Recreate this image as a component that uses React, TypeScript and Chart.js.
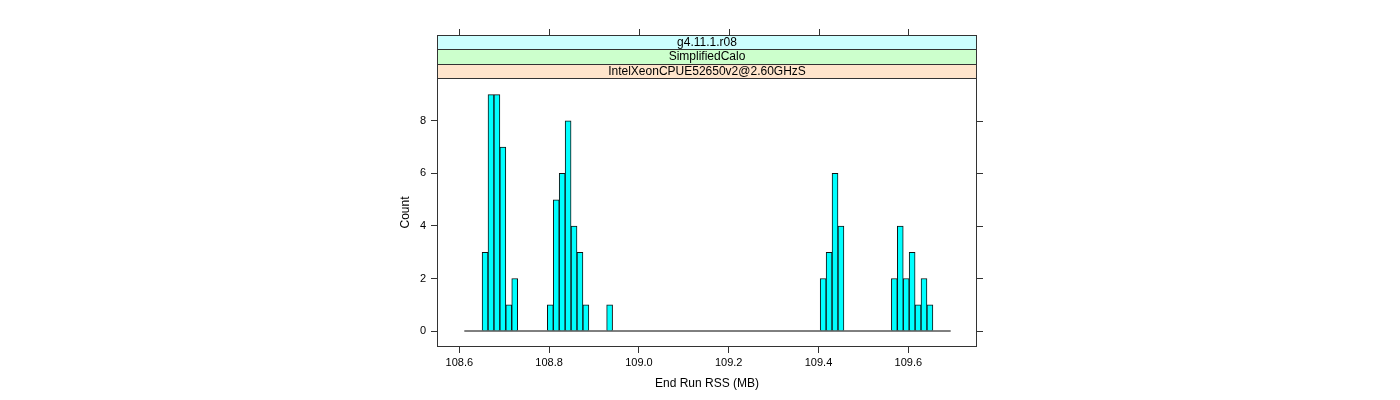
import React, { useEffect, useRef } from "react";
import { Chart, registerables } from "chart.js";

Chart.register(...registerables);

// Histogram bins (End Run RSS, MB)
const binStart = 108.6111;
const binWidth = 0.013211;
const counts = [
  0, 0, 0, 3, 9, 9, 7, 1, 2, 0,
  0, 0, 0, 0, 1, 5, 6, 8, 4, 3,
  1, 0, 0, 0, 1, 0, 0, 0, 0, 0,
  0, 0, 0, 0, 0, 0, 0, 0, 0, 0,
  0, 0, 0, 0, 0, 0, 0, 0, 0, 0,
  0, 0, 0, 0, 0, 0, 0, 0, 0, 0,
  2, 3, 6, 4, 0, 0, 0, 0, 0, 0,
  0, 0, 2, 4, 2, 3, 1, 2, 1, 0,
  0, 0,
];
const stripLabels = ["g4.11.1.r08", "SimplifiedCalo", "IntelXeonCPUE52650v2@2.60GHzS"];
const stripColors = ["#ccffff", "#ccffcc", "#ffe5cc"];
const xTicks = [108.6, 108.8, 109.0, 109.2, 109.4, 109.6];
const yTicks = [0, 2, 4, 6, 8];
const xTitle = "End Run RSS (MB)";
const yTitle = "Count";

const FONT = "'Liberation Sans', Arial, Helvetica, sans-serif";

export default function App() {
  const ref = useRef<HTMLCanvasElement | null>(null);

  useEffect(() => {
    document.body.style.margin = "0";
    const canvas = ref.current!;
    const binCenters = counts.map((_, i) => binStart + (i + 0.5) * binWidth);
    const binEnd = binStart + counts.length * binWidth;

    const framePlugin = {
      id: "latticeFrame",
      afterDraw(chart: any) {
        const { ctx, chartArea } = chart;
        const { left, right, top, bottom } = chartArea;
        const xs = chart.scales.x;
        const ys = chart.scales.y;
        ctx.save();
        // panel border
        ctx.strokeStyle = "#333";
        ctx.lineWidth = 1;
        ctx.strokeRect(left + 0.5, top + 0.5, right - left - 1, bottom - top - 1);
        // strips
        const sh = 14.4;
        const n = stripLabels.length;
        const edges = Array.from({ length: n + 1 }, (_, k) => Math.round(top - sh * (n - k)));
        const stripTop = edges[0];
        ctx.font = `12px ${FONT}`;
        ctx.textAlign = "center";
        ctx.textBaseline = "middle";
        stripLabels.forEach((lab, i) => {
          const y0 = edges[i];
          const y1 = edges[i + 1];
          ctx.fillStyle = stripColors[i];
          ctx.fillRect(left, y0, right - left, y1 - y0);
          ctx.strokeStyle = "#333";
          ctx.strokeRect(left + 0.5, y0 + 0.5, right - left - 1, y1 - y0);
          ctx.fillStyle = "#000";
          ctx.fillText(lab, (left + right) / 2, (y0 + y1) / 2 + 0.5);
        });
        // top ticks above strips
        ctx.strokeStyle = "#333";
        ctx.beginPath();
        xTicks.forEach((v) => {
          const px = Math.round(xs.getPixelForValue(v)) + 0.5;
          ctx.moveTo(px, stripTop);
          ctx.lineTo(px, stripTop - 6);
        });
        // right ticks
        yTicks.forEach((v) => {
          const py = Math.round(ys.getPixelForValue(v)) + 0.5;
          ctx.moveTo(right, py);
          ctx.lineTo(right + 6, py);
        });
        ctx.stroke();
        ctx.restore();
      },
    };

    const chart = new Chart(canvas, {
      type: "bar",
      data: {
        datasets: [
          {
            type: "bar",
            data: binCenters.map((x, i) => ({ x, y: counts[i] })),
            backgroundColor: "#00ffff",
            borderColor: "#111",
            borderWidth: 1,
            barPercentage: 1,
            categoryPercentage: 1,
            order: 1,
          } as any,
          {
            type: "line",
            data: [
              { x: binStart, y: 0 },
              { x: binEnd, y: 0 },
            ],
            borderColor: "#000",
            borderWidth: 1,
            pointRadius: 0,
            order: 0,
          } as any,
        ],
      },
      options: {
        animation: false,
        responsive: false,
        maintainAspectRatio: false,
        layout: { padding: { left: 394, right: 423, top: 78, bottom: 0 } },
        plugins: { legend: { display: false }, tooltip: { enabled: false } },
        scales: {
          x: {
            type: "linear",
            offset: false,
            min: 108.5503,
            max: 109.753,
            afterFit(s: any) {
              s.height = 53;
            },
            afterBuildTicks(s: any) {
              s.ticks = xTicks.map((v) => ({ value: v }));
            },
            grid: {
              display: true,
              drawOnChartArea: false,
              drawTicks: true,
              tickLength: 6,
              color: "#333",
              offset: false,
            },
            border: { display: false },
            ticks: {
              padding: 3,
              color: "#000",
              font: { family: FONT, size: 11 },
              maxRotation: 0,
              autoSkip: false,
              callback: (v: any) => Number(v).toFixed(1),
            },
            title: {
              display: true,
              text: xTitle,
              color: "#000",
              font: { family: FONT, size: 12 },
              padding: { top: 0, bottom: 9 },
            },
          },
          y: {
            type: "linear",
            min: -0.609,
            max: 9.635,
            afterFit(s: any) {
              s.width = 43;
            },
            afterBuildTicks(s: any) {
              s.ticks = yTicks.map((v) => ({ value: v }));
            },
            grid: {
              display: true,
              drawOnChartArea: false,
              drawTicks: true,
              tickLength: 6,
              color: "#333",
            },
            border: { display: false },
            ticks: {
              padding: 5,
              color: "#000",
              font: { family: FONT, size: 11 },
              callback: (v: any) => String(v),
            },
            title: {
              display: true,
              text: yTitle,
              color: "#000",
              font: { family: FONT, size: 12 },
              padding: { top: 4, bottom: 0 },
            },
          },
        },
      } as any,
      plugins: [framePlugin],
    });
    return () => chart.destroy();
  }, []);

  return (
    <div style={{ width: 1400, height: 400, background: "#fff" }}>
      <canvas ref={ref} width={1400} height={400} style={{ display: "block", width: 1400, height: 400 }} />
    </div>
  );
}
